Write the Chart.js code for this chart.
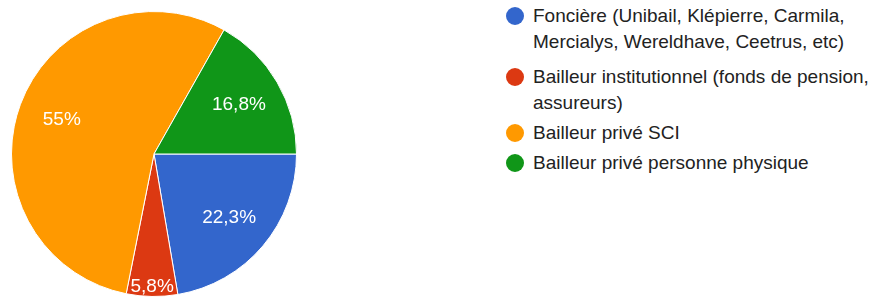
<!DOCTYPE html>
<html>
<head>
<meta charset="utf-8">
<script src="https://cdn.jsdelivr.net/npm/chart.js@4"></script>
<style>
  body { margin: 0; width: 871px; height: 304px; background: #fff; position: relative; overflow: hidden; font-family: Arial, "Liberation Sans", sans-serif; }
  #pieBox { position: absolute; left: 11px; top: 11px; width: 286px; height: 286px; }
  #legend { position: absolute; left: 506px; top: 3px; width: 365px; list-style: none; margin: 0; padding: 0; color: #222; font-size: 19px; line-height: 26px; }
  #legend li { position: relative; padding-left: 27px; margin-bottom: 4px; }
  #legend li:first-child { margin-bottom: 9px; }
  #legend .dot { position: absolute; left: 0; top: 4px; width: 18px; height: 18px; border-radius: 50%; }
</style>
</head>
<body>
<div id="pieBox"><canvas id="pie"></canvas></div>
<ul id="legend"></ul>
<script>
const labels = [
  "Foncière (Unibail, Klépierre, Carmila, Mercialys, Wereldhave, Ceetrus, etc)",
  "Bailleur institutionnel (fonds de pension, assureurs)",
  "Bailleur privé SCI",
  "Bailleur privé personne physique"
];
const values = [22.3, 5.8, 55, 16.8];
const valueLabels = ["22,3%", "5,8%", "55%", "16,8%"];
const colors = ["#3366cc", "#dc3912", "#ff9900", "#109618"];

// legend
const legend = document.getElementById("legend");
labels.forEach((l, i) => {
  let li = document.createElement("li");
  li.innerHTML = `<span class="dot" style="background:${colors[i]}"></span>${l}`;
  legend.appendChild(li);
});

// slice labels drawn at mid-angle
const sliceLabels = {
  id: "sliceLabels",
  afterDatasetsDraw(chart) {
    const ctx = chart.ctx;
    const meta = chart.getDatasetMeta(0);
    ctx.save();
    ctx.fillStyle = "#fff";
    ctx.font = "19px Arial, 'Liberation Sans', sans-serif";
    ctx.textAlign = "center";
    ctx.textBaseline = "middle";
    meta.data.forEach((arc, i) => {
      const mid = (arc.startAngle + arc.endAngle) / 2;
      const small = (arc.endAngle - arc.startAngle) < 0.5;
      const r = arc.outerRadius * (small ? 0.93 : 0.69);
      ctx.fillText(valueLabels[i], arc.x + Math.cos(mid) * r, arc.y + Math.sin(mid) * r);
    });
    ctx.restore();
  }
};

new Chart(document.getElementById("pie"), {
  type: "pie",
  data: {
    labels: labels,
    datasets: [{
      data: values,
      backgroundColor: colors,
      borderColor: "#ffffff",
      borderWidth: 1
    }]
  },
  options: {
    responsive: true,
    maintainAspectRatio: false,
    animation: false,
    rotation: 90,
    plugins: {
      legend: { display: false },
      tooltip: { enabled: false }
    }
  },
  plugins: [sliceLabels]
});
</script>
</body>
</html>
